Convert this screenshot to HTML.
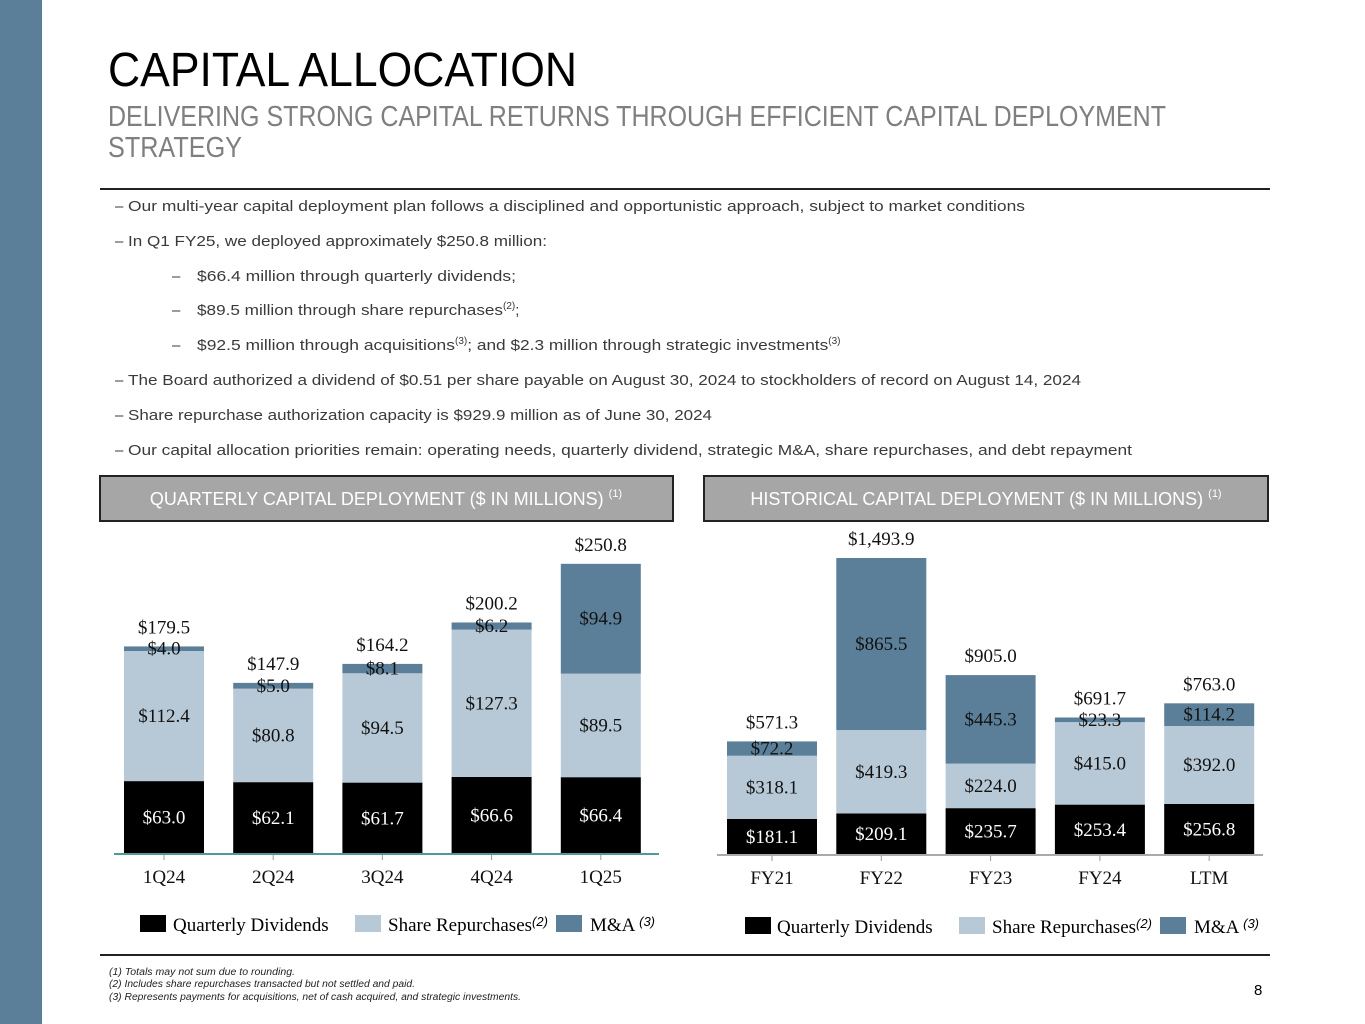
<!DOCTYPE html>
<html><head><meta charset="utf-8"><style>
html,body{margin:0;padding:0;background:#fff;}
svg{display:block;}
.b{font-family:"Liberation Sans",sans-serif;font-size:15px;fill:#3a3a3a;}
.v{font-family:"Liberation Serif",serif;font-size:19px;}
</style></head><body>
<svg id="page" width="1365" height="1024" viewBox="0 0 1365 1024" xmlns="http://www.w3.org/2000/svg">
<rect x="0" y="0" width="42" height="1024" fill="#5b7f98"/>
<text x="108" y="86" font-family="Liberation Sans,sans-serif" font-size="48" fill="#000" textLength="469" lengthAdjust="spacingAndGlyphs">CAPITAL ALLOCATION</text>
<text x="108" y="126" font-family="Liberation Sans,sans-serif" font-size="29" fill="#7f7f7f" textLength="1058" lengthAdjust="spacingAndGlyphs">DELIVERING STRONG CAPITAL RETURNS THROUGH EFFICIENT CAPITAL DEPLOYMENT</text>
<text x="108" y="157" font-family="Liberation Sans,sans-serif" font-size="29" fill="#7f7f7f" textLength="134" lengthAdjust="spacingAndGlyphs">STRATEGY</text>
<line x1="100" y1="189" x2="1270" y2="189" stroke="#222" stroke-width="2"/>
<g class="b">
<text x="115" y="211">–</text><text x="128" y="211" textLength="897" lengthAdjust="spacingAndGlyphs">Our multi-year capital deployment plan follows a disciplined and opportunistic approach, subject to market conditions</text>
<text x="115" y="246">–</text><text x="128" y="246" textLength="419" lengthAdjust="spacingAndGlyphs">In Q1 FY25, we deployed approximately $250.8 million:</text>
<text x="172" y="281">–</text><text x="197" y="281" textLength="319" lengthAdjust="spacingAndGlyphs">$66.4 million through quarterly dividends;</text>
<text x="172" y="315">–</text><text x="197" y="315"><tspan textLength="306" lengthAdjust="spacingAndGlyphs">$89.5 million through share repurchases</tspan><tspan font-size="10" dy="-6">(2)</tspan><tspan dy="6">;</tspan></text>
<text x="172" y="350">–</text><text x="197" y="350"><tspan textLength="258" lengthAdjust="spacingAndGlyphs">$92.5 million through acquisitions</tspan><tspan font-size="10" dy="-6">(3)</tspan><tspan dy="6" textLength="361" lengthAdjust="spacingAndGlyphs">; and $2.3 million through strategic investments</tspan><tspan font-size="10" dy="-6">(3)</tspan></text>
<text x="115" y="385">–</text><text x="128" y="385" textLength="953" lengthAdjust="spacingAndGlyphs">The Board authorized a dividend of $0.51 per share payable on August 30, 2024 to stockholders of record on August 14, 2024</text>
<text x="115" y="420">–</text><text x="128" y="420" textLength="584" lengthAdjust="spacingAndGlyphs">Share repurchase authorization capacity is $929.9 million as of June 30, 2024</text>
<text x="115" y="455">–</text><text x="128" y="455" textLength="1004" lengthAdjust="spacingAndGlyphs">Our capital allocation priorities remain: operating needs, quarterly dividend, strategic M&amp;A, share repurchases, and debt repayment</text>
</g>
<g>
<rect x="100" y="476" width="573" height="45" fill="#a6a6a6" stroke="#222" stroke-width="2"/>
<text x="386" y="505" text-anchor="middle" font-family="Liberation Sans,sans-serif" font-size="18" fill="#fff">QUARTERLY CAPITAL DEPLOYMENT ($ IN MILLIONS) <tspan font-size="11" dy="-8">(1)</tspan></text>
</g>
<g>
<rect x="704" y="476" width="564" height="45" fill="#a6a6a6" stroke="#222" stroke-width="2"/>
<text x="986" y="505" text-anchor="middle" font-family="Liberation Sans,sans-serif" font-size="18" fill="#fff">HISTORICAL CAPITAL DEPLOYMENT ($ IN MILLIONS) <tspan font-size="11" dy="-8">(1)</tspan></text>
</g>
<g id="qchart"></g>
<g id="hchart"></g>
<g class="v">
<rect x="140" y="915" width="26" height="17" fill="#000"/><text x="173" y="931">Quarterly Dividends</text>
<rect x="355" y="915" width="26" height="17" fill="#b7c9d6"/><text x="388" y="931">Share Repurchases<tspan font-style="italic" font-family="Liberation Sans,sans-serif" font-size="13" dy="-5">(2)</tspan></text>
<rect x="556" y="915" width="26" height="17" fill="#5b7f98"/><text x="590" y="931">M&amp;A <tspan font-style="italic" font-family="Liberation Sans,sans-serif" font-size="13" dy="-5">(3)</tspan></text>
</g>
<g class="v">
<rect x="745" y="917" width="26" height="17" fill="#000"/><text x="777" y="933">Quarterly Dividends</text>
<rect x="959" y="917" width="26" height="17" fill="#b7c9d6"/><text x="992" y="933">Share Repurchases<tspan font-style="italic" font-family="Liberation Sans,sans-serif" font-size="13" dy="-5">(2)</tspan></text>
<rect x="1160" y="917" width="26" height="17" fill="#5b7f98"/><text x="1194" y="933">M&amp;A <tspan font-style="italic" font-family="Liberation Sans,sans-serif" font-size="13" dy="-5">(3)</tspan></text>
</g>
<line x1="100" y1="955" x2="1270" y2="955" stroke="#222" stroke-width="2"/>
<g font-family="Liberation Sans,sans-serif" font-size="10" font-style="italic" fill="#222">
<text x="109" y="975" textLength="186" lengthAdjust="spacingAndGlyphs">(1) Totals may not sum due to rounding.</text>
<text x="109" y="987" textLength="306" lengthAdjust="spacingAndGlyphs">(2) Includes share repurchases transacted but not settled and paid.</text>
<text x="109" y="1000" textLength="412" lengthAdjust="spacingAndGlyphs">(3) Represents payments for acquisitions, net of cash acquired, and strategic investments.</text>
</g>
<text x="1254" y="995" font-family="Liberation Sans,sans-serif" font-size="15" fill="#000">8</text>
</svg>
<script>
const qCategories = ["1Q24","2Q24","3Q24","4Q24","1Q25"];
const qDividends = [63.0,62.1,61.7,66.6,66.4];
const qRepurchases = [112.4,80.8,94.5,127.3,89.5];
const qMA = [4.0,5.0,8.1,6.2,94.9];
const qTotals = ["$179.5","$147.9","$164.2","$200.2","$250.8"];

const hCategories = ["FY21","FY22","FY23","FY24","LTM"];
const hDividends = [181.1,209.1,235.7,253.4,256.8];
const hRepurchases = [318.1,419.3,224.0,415.0,392.0];
const hMA = [72.2,865.5,445.3,23.3,114.2];
const hTotals = ["$571.3","$1,493.9","$905.0","$691.7","$763.0"];

const NS="http://www.w3.org/2000/svg";
function mk(tag,attrs,parent){const e=document.createElementNS(NS,tag);for(const k in attrs)e.setAttribute(k,attrs[k]);parent.appendChild(e);return e;}
function fmt(v){return "$"+v.toFixed(1);}
function draw(g,cats,series,totals,opt){
  const y=v=>opt.base-v*opt.scale;
  const x=i=>opt.x0+i*opt.step;
  const colors=["#000","#b7c9d6","#5b7f98"];
  const textCol=["#fff","#111","#111"];
  cats.forEach((c,i)=>{
    let acc=0;
    series.forEach((s,k)=>{
      const v=s[i];
      const r=mk('rect',{x:x(i)-opt.w/2,y:y(acc+v),width:opt.w,height:v*opt.scale,fill:colors[k]},g);
      
      
      const t=mk('text',{x:x(i),y:(y(acc)+y(acc+v))/2+6,'text-anchor':'middle',class:'v',fill:textCol[k]},g);
      
      
      t.textContent=fmt(v);
      acc+=v;
    });
    const tt=mk('text',{x:x(i),y:y(acc)-13,'text-anchor':'middle',class:'v',fill:'#111'},g);
    
    
    tt.textContent=totals[i];
    const tk=mk('line',{x1:x(i),x2:x(i),y1:opt.base,y2:opt.base+6,stroke:'#999'},g);
    
    
    const cl=mk('text',{x:x(i),y:opt.base+29,'text-anchor':'middle',class:'v',fill:'#111'},g);
    
    
    cl.textContent=c;
  });
  const ax=mk('line',{x1:opt.ax1,x2:opt.ax2,y1:opt.base,y2:opt.base,stroke:opt.axc,'stroke-width':2},g);
  
  
}
draw(document.getElementById('qchart'),qCategories,[qDividends,qRepurchases,qMA],qTotals,
  {base:854,scale:1.157,x0:164,step:109.2,w:80,ax1:114,ax2:659,axc:'#4f9a96'});
draw(document.getElementById('hchart'),hCategories,[hDividends,hRepurchases,hMA],hTotals,
  {base:855,scale:0.1988,x0:772,step:109.3,w:90,ax1:717,ax2:1263,axc:'#aaa'});
</script>
</body></html>
